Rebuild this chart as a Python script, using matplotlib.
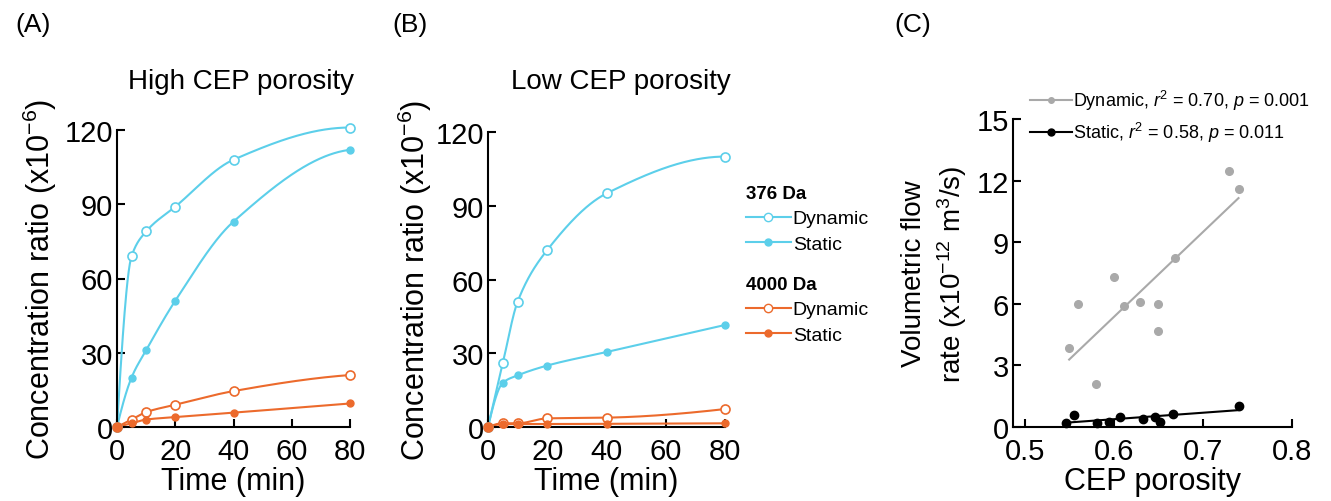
import numpy as np
import matplotlib
matplotlib.use("Agg")
import matplotlib.pyplot as plt
from matplotlib.lines import Line2D

plt.rcParams['font.family'] = ['Liberation Sans', 'DejaVu Sans']
plt.rcParams['mathtext.fontset'] = 'custom'
plt.rcParams['mathtext.rm'] = 'Liberation Sans'
plt.rcParams['mathtext.it'] = 'Liberation Sans:italic'
plt.rcParams['mathtext.bf'] = 'Liberation Sans:bold'

# --- Data ---
time_min = [0, 5, 10, 20, 40, 80]

high_376_dynamic = [0, 69, 79, 89, 108, 121]
high_376_static = [0, 20, 31, 51, 83, 112]
high_4000_dynamic = [0, 3, 6, 9, 14.5, 21]
high_4000_static = [0, 1.5, 3, 4, 5.8, 9.5]

low_376_dynamic = [0, 26, 51, 72, 95, 110]
low_376_static = [0, 18, 21, 25, 30.5, 41.5]
low_4000_dynamic = [0, 1.5, 1.5, 3.5, 3.8, 7.3]
low_4000_static = [0, 1.2, 1.2, 1.2, 1.3, 1.5]

dyn_porosity = [0.550, 0.560, 0.580, 0.600, 0.611, 0.630, 0.650, 0.650, 0.669, 0.729, 0.740]
dyn_flow = [3.86, 6.0, 2.07, 7.29, 5.87, 6.11, 5.97, 4.68, 8.23, 12.47, 11.61]
stat_porosity = [0.547, 0.555, 0.581, 0.595, 0.607, 0.633, 0.646, 0.652, 0.667, 0.741]
stat_flow = [0.20, 0.59, 0.21, 0.23, 0.47, 0.39, 0.50, 0.26, 0.62, 1.03]

CYAN = '#5ccfea'
ORANGE = '#ec6a2c'
GRAY = '#a9a9a9'


def pchip(x, y, xs):
    # shape-preserving cubic, only used to draw the smooth connecting curve
    x = np.asarray(x, float)
    y = np.asarray(y, float)
    h = np.diff(x)
    delta = np.diff(y) / h
    n = len(x)
    d = np.zeros(n)
    for k in range(1, n - 1):
        if delta[k - 1] * delta[k] > 0:
            w1 = 2 * h[k] + h[k - 1]
            w2 = h[k] + 2 * h[k - 1]
            d[k] = (w1 + w2) / (w1 / delta[k - 1] + w2 / delta[k])
    d[0] = ((2 * h[0] + h[1]) * delta[0] - h[0] * delta[1]) / (h[0] + h[1])
    if np.sign(d[0]) != np.sign(delta[0]):
        d[0] = 0
    d[-1] = ((2 * h[-1] + h[-2]) * delta[-1] - h[-1] * delta[-2]) / (h[-1] + h[-2])
    if np.sign(d[-1]) != np.sign(delta[-1]):
        d[-1] = 0
    idx = np.clip(np.searchsorted(x, xs) - 1, 0, n - 2)
    t = (xs - x[idx]) / h[idx]
    h00 = 2 * t**3 - 3 * t**2 + 1
    h10 = t**3 - 2 * t**2 + t
    h01 = -2 * t**3 + 3 * t**2
    h11 = t**3 - t**2
    return h00 * y[idx] + h10 * h[idx] * d[idx] + h01 * y[idx + 1] + h11 * h[idx] * d[idx + 1]


def plot_series(ax, y, color, filled):
    xs = np.linspace(time_min[0], time_min[-1], 400)
    ax.plot(xs, pchip(time_min, y, xs), color=color, lw=1.5, clip_on=False, zorder=2)
    if filled:
        ax.plot(time_min, y, 'o', color=color, ms=5, clip_on=False, zorder=3)
    else:
        ax.plot(time_min, y, 'o', mec=color, mfc='white', mew=1.2, ms=6.5, clip_on=False, zorder=3)


def style_axes(ax):
    for s in ['top', 'right']:
        ax.spines[s].set_visible(False)
    for s in ['left', 'bottom']:
        ax.spines[s].set_linewidth(1.5)
    ax.tick_params(direction='in', length=6, width=1.5, labelsize=21, pad=3)
    ax.tick_params(axis='x', pad=7)


W, H = 1331, 502
fig = plt.figure(figsize=(W / 100, H / 100), dpi=100)

axA = fig.add_axes([117 / W, 1 - 428 / H, 233 / W, 297 / H])
axB = fig.add_axes([488 / W, 1 - 428 / H, 237 / W, 295 / H])
axC = fig.add_axes([1013 / W, 1 - 428 / H, 279 / W, 308 / H])

# Panels A and B
for ax, series, title, tx in [
    (axA, [high_376_dynamic, high_376_static, high_4000_dynamic, high_4000_static], 'High CEP porosity', 241),
    (axB, [low_376_dynamic, low_376_static, low_4000_dynamic, low_4000_static], 'Low CEP porosity', 621),
]:
    plot_series(ax, series[0], CYAN, False)
    plot_series(ax, series[1], CYAN, True)
    plot_series(ax, series[2], ORANGE, False)
    plot_series(ax, series[3], ORANGE, True)
    ax.set_xlim(0, 80)
    ax.set_ylim(0, 120)
    ax.set_xticks([0, 20, 40, 60, 80])
    ax.set_yticks([0, 30, 60, 90, 120])
    style_axes(ax)
    ax.set_xlabel('Time (min)', fontsize=22, labelpad=1)
    ax.set_ylabel('Concentration ratio (x10$^{-6}$)', fontsize=22, va='center')
    fig.text(tx / W, 1 - 82 / H, title, fontsize=20, ha='center', va='center')

axA.yaxis.set_label_coords(-0.33, 0.5)
axB.yaxis.set_label_coords(-0.31, 0.5)

# Legend for B
h_dyn_c = Line2D([], [], color=CYAN, lw=1.5, marker='o', mec=CYAN, mfc='white', ms=6)
h_stat_c = Line2D([], [], color=CYAN, lw=1.5, marker='o', ms=5)
h_dyn_o = Line2D([], [], color=ORANGE, lw=1.5, marker='o', mec=ORANGE, mfc='white', ms=6)
h_stat_o = Line2D([], [], color=ORANGE, lw=1.5, marker='o', ms=5)
leg_kw = dict(loc='upper left', bbox_transform=fig.transFigure, frameon=False, fontsize=14,
              alignment='left', title_fontproperties={'weight': 'bold', 'size': 13.5},
              handlelength=2.3, handletextpad=0.1, labelspacing=0.4,
              borderpad=0, borderaxespad=0)
leg1 = axB.legend([h_dyn_c, h_stat_c], ['Dynamic', 'Static'], title='376 Da',
                  bbox_to_anchor=(746 / W, 1 - 186 / H), **leg_kw)
axB.add_artist(leg1)
axB.legend([h_dyn_o, h_stat_o], ['Dynamic', 'Static'], title='4000 Da',
           bbox_to_anchor=(746 / W, 1 - 277 / H), **leg_kw)

# Panel C
dyn_fit = np.polyfit(dyn_porosity, dyn_flow, 1)
stat_fit = np.polyfit(stat_porosity, stat_flow, 1)
xd = np.array([min(dyn_porosity), max(dyn_porosity)])
xs_ = np.array([min(stat_porosity), max(stat_porosity)])
axC.plot(xd, np.polyval(dyn_fit, xd), color=GRAY, lw=1.5)
axC.plot(dyn_porosity, dyn_flow, 'o', color=GRAY, ms=5.5)
axC.plot(xs_, np.polyval(stat_fit, xs_), color='black', lw=1.5)
axC.plot(stat_porosity, stat_flow, 'o', color='black', ms=6, clip_on=False)
axC.set_xlim(0.487, 0.8)
axC.set_ylim(0, 15)
axC.set_xticks([0.5, 0.6, 0.7, 0.8])
axC.set_yticks([0, 3, 6, 9, 12, 15])
style_axes(axC)
axC.set_xlabel('CEP porosity', fontsize=22, labelpad=1)
axC.set_ylabel('Volumetric flow\nrate (x10$^{-12}$ m$^3$/s)', fontsize=20, va='center', linespacing=1.3)
axC.yaxis.set_label_coords(-0.28, 0.5)

h_dyn = Line2D([], [], color=GRAY, lw=1.5, marker='o', ms=4)
h_stat = Line2D([], [], color='black', lw=1.5, marker='o', ms=5)
axC.legend([h_dyn, h_stat],
           ['Dynamic, $r^2$ = 0.70, $p$ = 0.001', 'Static, $r^2$ = 0.58, $p$ = 0.011'],
           loc='upper left', bbox_to_anchor=(1030 / W, 1 - 89 / H), bbox_transform=fig.transFigure,
           frameon=False, fontsize=13, handlelength=2.3, handletextpad=0.1,
           labelspacing=0.45, borderpad=0, borderaxespad=0)

# Panel labels
fig.text(33 / W, 1 - 25 / H, '(A)', fontsize=19, ha='center', va='center')
fig.text(410 / W, 1 - 25 / H, '(B)', fontsize=19, ha='center', va='center')
fig.text(913 / W, 1 - 25 / H, '(C)', fontsize=19, ha='center', va='center')

fig.savefig('out.png', dpi=100)
